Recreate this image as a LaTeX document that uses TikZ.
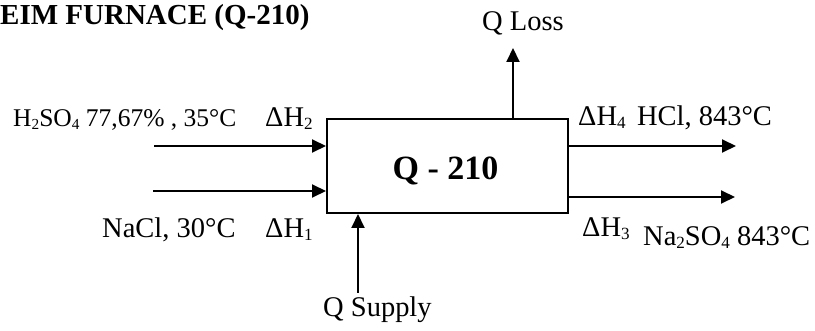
\documentclass[tikz,border=0pt]{standalone}
\usepackage{fontspec}
\usepackage{graphicx}
\setmainfont{Liberation Serif}
\usetikzlibrary{arrows.meta}
\newcommand\sbs[1]{\raisebox{-0.08em}{\scalebox{0.6}{#1}}}
\tikzset{
  lbl/.style={anchor=base west, inner sep=0pt, font=\fontsize{28.5}{32}\selectfont},
  lblsm/.style={anchor=base west, inner sep=0pt, font=\fontsize{25.5}{28}\selectfont},
  arr/.style={line width=2pt, -{Triangle[length=14pt,width=13pt]}},
  furnace/.style={draw, line width=2pt, minimum width=241pt, minimum height=94pt, inner sep=0pt}
}
\begin{document}
\begin{tikzpicture}[x=1pt,y=-1pt]
\useasboundingbox (0,0) rectangle (815,331);
% title
\node[anchor=base west, inner sep=0pt, font=\fontsize{29}{32}\selectfont\bfseries] (title) at (0,25) {EIM FURNACE (Q-210)};
% box
\node[furnace] (box) at (447.5,166) {};
\node[anchor=base, inner sep=0pt, font=\fontsize{34}{38}\selectfont\bfseries] (boxlbl) at (445.5,180) {Q - 210};
% free ends
\coordinate (in1) at (154,146);
\coordinate (in2) at (153,191);
\coordinate (out1) at (736,146);
\coordinate (out2) at (735,197);
\coordinate (loss) at (513,48);
\coordinate (sup) at (358,293);
% arrows
\draw[arr] (in1) -- (in1 -| box.west);
\draw[arr] (in2) -- (in2 -| box.west);
\draw[arr] (out1 -| box.east) -- (out1);
\draw[arr] (out2 -| box.east) -- (out2);
\draw[arr] (loss |- box.north) -- (loss);
\draw[arr] (sup) -- (sup |- box.south);
% labels
\node[lbl] (qloss) at (482,31) {Q Loss};
\node[lblsm] (h2so4) at (13,127) {H\sbs{2}SO\sbs{4} 77,67\% , 35°C};
\node[lbl] (dh2) at (265,127) {ΔH\sbs{2}};
\node[lbl] (nacl) at (102,238) {NaCl, 30°C};
\node[lbl] (dh1) at (265,238) {ΔH\sbs{1}};
\node[lbl] (dh4) at (578,126) {ΔH\sbs{4}\hspace{0.4em}HCl, 843°C};
\node[lbl] (dh3) at (582,237) {ΔH\sbs{3}};
\node[lbl] (na2so4) at (643,246) {Na\sbs{2}SO\sbs{4} 843°C};
\node[lbl] (qsup) at (323,317) {Q Supply};
\end{tikzpicture}
\end{document}
